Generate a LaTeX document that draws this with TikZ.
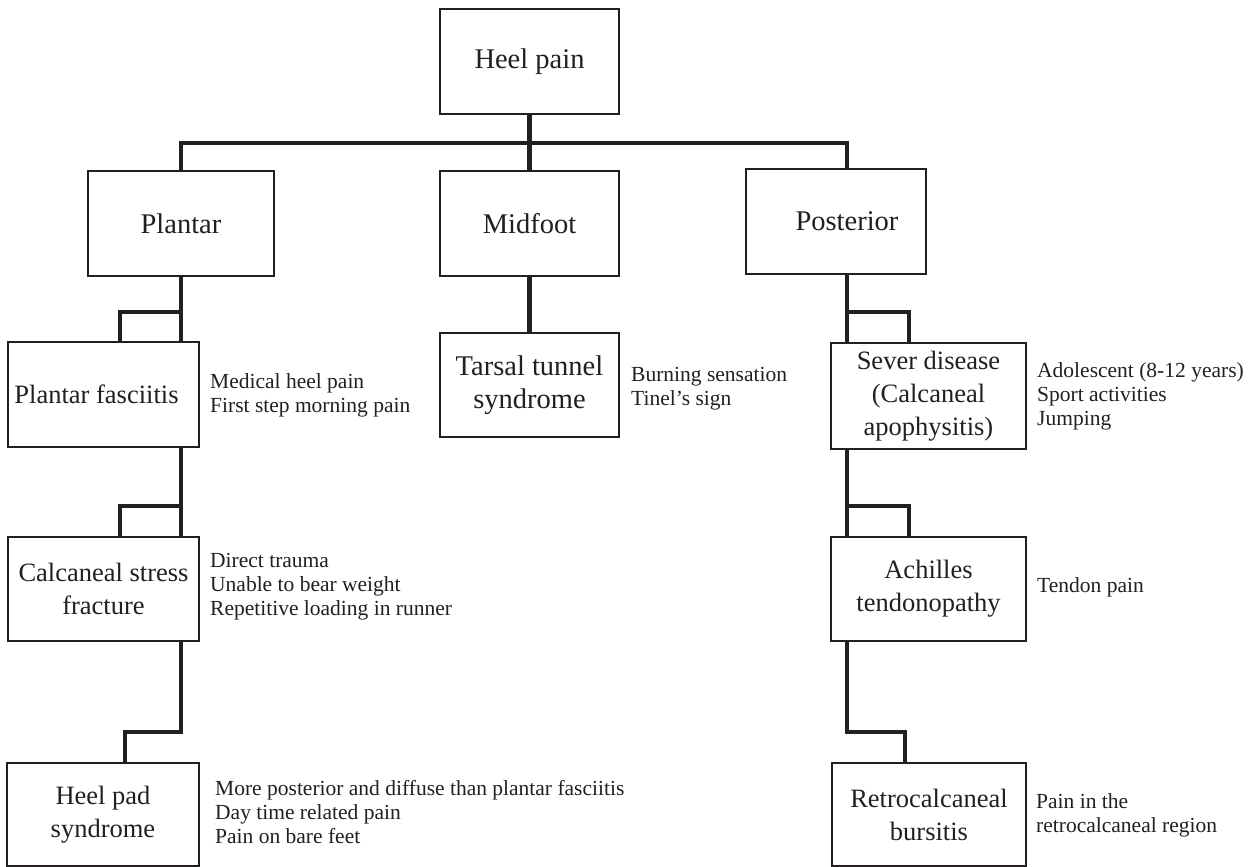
\documentclass[tikz,border=0pt]{standalone}
\usepackage{fontspec}
\setmainfont{Liberation Serif}
\definecolor{ink}{RGB}{35,31,32}
\tikzset{
  box/.style={draw=ink, line width=2.2pt, rectangle, inner sep=2pt, align=center, text=ink},
  bigtxt/.style={font=\fontsize{28.5}{33}\selectfont},
  smalltxt/.style={font=\fontsize{26.5}{33}\selectfont},
  note/.style={font=\fontsize{21.5}{24}\selectfont, align=left, anchor=west, inner sep=0pt, text=ink},
  notebase/.style={font=\fontsize{21.5}{24}\selectfont, anchor=base west, inner sep=0pt, text=ink},
  conn/.style={draw=ink, line width=4.2pt, line join=miter},
}
\begin{document}
\begin{tikzpicture}[x=1pt,y=-1pt]
\useasboundingbox (0,0) rectangle (1254,867);

% boxes
\node[box,bigtxt,minimum width=179pt,minimum height=105pt] (hp) at (529.5,61.5) {Heel pain};
\node[box,bigtxt,minimum width=186pt,minimum height=105pt] (pl) at (181,223.5) {Plantar};
\node[box,bigtxt,minimum width=179pt,minimum height=105pt] (mid) at (529.5,223.5) {Midfoot};
\node[box,bigtxt,minimum width=180pt,minimum height=105pt] (post) at (836,221.5) {\hspace*{22pt}Posterior};
\node[box,smalltxt,minimum width=191pt,minimum height=105pt] (pf) at (103.5,394.5) {Plantar fasciitis\hspace*{14pt}};
\node[box,smalltxt,minimum width=191pt,minimum height=104pt] (csf) at (103.5,589) {Calcaneal stress\\fracture};
\node[box,smalltxt,minimum width=192pt,minimum height=103pt] (hpad) at (103,814.5) {Heel pad\\syndrome};
\node[box,bigtxt,minimum width=179pt,minimum height=104pt] (tar) at (529.5,385) {Tarsal tunnel\\syndrome};
\node[box,smalltxt,minimum width=195pt,minimum height=106pt] (sev) at (928.5,396) {Sever disease\\(Calcaneal\\apophysitis)};
\node[box,smalltxt,minimum width=195pt,minimum height=104pt] (ach) at (928.5,589) {Achilles\\tendonopathy};
\node[box,smalltxt,minimum width=194pt,minimum height=103pt] (ret) at (929,814.5) {Retrocalcaneal\\bursitis};

% annotations
\node[note] (npf) at (210,395) {Medical heel pain\\First step morning pain};
\node[note] (ncsf) at (210,587) {Direct trauma\\Unable to bear weight\\Repetitive loading in runner};
\node[note] (nhpad) at (215,811.6) {More posterior and diffuse than plantar fasciitis\\Day time related pain\\Pain on bare feet};
\node[note] (ntar) at (631,388.5) {Burning sensation\\Tinel’s sign};
\node[note] (nsev) at (1037,396) {Adolescent (8-12 years)\\Sport activities\\Jumping};
\node[notebase] (nach) at (1037,592) {Tendon pain};
\node[note] (nret) at (1036,815) {Pain in the\\retrocalcaneal region};

% junction coordinates
\coordinate (bus) at (529.5,143);
\coordinate (pj) at ([xshift=11pt]post.south);
\coordinate (l1) at (120,312);
\coordinate (l2) at (120,506);
\coordinate (l3) at (125,732);
\coordinate (r1) at (909,312);
\coordinate (r2) at (909,506);
\coordinate (r3) at (905,732);

% top level
\draw[conn] (hp.south) -- (mid.north);
\draw[conn] (pl.north) |- (bus) -| ([xshift=11pt]post.north);
\draw[conn] (mid.south) -- (tar.north);

% left column
\draw[conn] (pl.south) -- (pl.south |- pf.north);
\draw[conn] (pl.south |- l1) -- (l1) -- (l1 |- pf.north);
\draw[conn] (pl.south |- pf.south) -- (pl.south |- csf.north);
\draw[conn] (pl.south |- l2) -- (l2) -- (l2 |- csf.north);
\draw[conn] (pl.south |- csf.south) -- (pl.south |- l3) -- (l3) -- (l3 |- hpad.north);

% right column
\draw[conn] (pj) -- (pj |- sev.north);
\draw[conn] (pj |- r1) -- (r1) -- (r1 |- sev.north);
\draw[conn] (pj |- sev.south) -- (pj |- ach.north);
\draw[conn] (pj |- r2) -- (r2) -- (r2 |- ach.north);
\draw[conn] (pj |- ach.south) -- (pj |- r3) -- (r3) -- (r3 |- ret.north);
\end{tikzpicture}
\end{document}
